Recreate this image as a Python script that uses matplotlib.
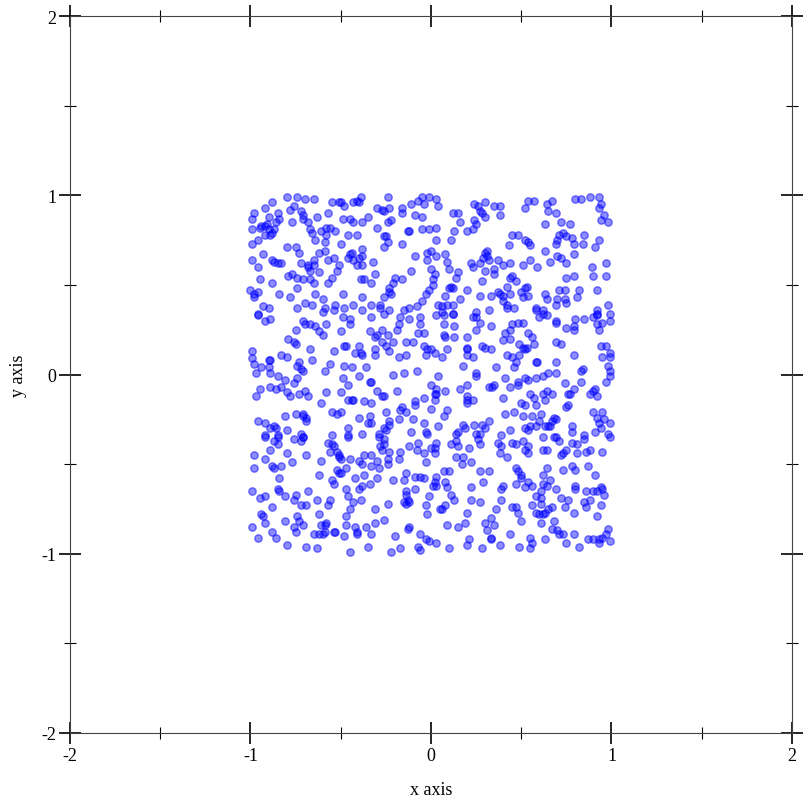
import numpy as np
import matplotlib
matplotlib.use("Agg")
import matplotlib.pyplot as plt
from matplotlib.ticker import MultipleLocator

# points, grouped by band (top / middle / bottom)
pts_top = [
    (-0.80, 0.99), (-0.74, 0.99), (-0.70, 0.98), (-0.65, 0.98), (-0.55, 0.96), (-0.51, 0.96),
    (-0.88, 0.96), (-0.92, 0.93), (-0.76, 0.94), (-0.78, 0.92), (-0.72, 0.91), (-0.98, 0.90),
    (-0.99, 0.87), (-0.90, 0.88), (-0.85, 0.90), (-0.84, 0.87), (-0.63, 0.88), (-0.57, 0.90),
    (-0.71, 0.89), (-0.86, 0.85), (-0.77, 0.85), (-0.68, 0.85), (-0.71, 0.87), (-0.94, 0.83),
    (-0.95, 0.82), (-0.91, 0.84), (-0.92, 0.83), (-0.90, 0.81), (-0.99, 0.81), (-0.87, 0.81),
    (-0.88, 0.79), (-0.92, 0.78), (-0.89, 0.78), (-0.67, 0.81), (-0.61, 0.80), (-0.58, 0.82),
    (-0.56, 0.82), (-0.53, 0.80), (-0.66, 0.79), (-0.58, 0.78), (-0.96, 0.75), (-0.99, 0.73),
    (-0.64, 0.75), (-0.59, 0.74), (-0.80, 0.71), (-0.75, 0.71), (-0.73, 0.68), (-0.62, 0.68),
    (-0.59, 0.69), (-0.93, 0.67), (-0.54, 0.65), (-0.99, 0.64), (-0.57, 0.64), (-0.88, 0.64),
    (-0.87, 0.63), (-0.85, 0.62), (-0.83, 0.62), (-0.72, 0.62), (-0.65, 0.64), (-0.96, 0.60),
    (-0.68, 0.60), (-0.68, 0.61), (-0.65, 0.61), (-0.67, 0.58), (-0.51, 0.61), (-0.52, 0.58),
    (-0.62, 0.57), (-0.79, 0.55), (-0.77, 0.56), (-0.74, 0.54), (-0.71, 0.53), (-0.67, 0.53),
    (-0.65, 0.51), (-0.95, 0.53), (-0.88, 0.51), (-0.55, 0.54), (-0.57, 0.51), (-0.74, 0.48),
    (-1.00, 0.47), (-0.98, 0.45), (-0.96, 0.46), (-0.98, 0.43), (-0.84, 0.45), (-0.78, 0.43),
    (-0.64, 0.45), (-0.60, 0.42), (-0.70, 0.40), (-0.66, 0.39), (-0.93, 0.38), (-0.90, 0.37),
    (-0.74, 0.37), (-0.59, 0.37), (-0.53, 0.39), (-0.54, 0.36), (-0.60, 0.35), (-0.96, 0.34),
    (-0.39, 0.99), (-0.24, 0.99), (-0.05, 0.99), (-0.01, 0.99), (-0.41, 0.97), (-0.43, 0.96),
    (-0.40, 0.96), (-0.50, 0.96), (-0.48, 0.94), (-0.30, 0.93), (-0.27, 0.92), (-0.23, 0.93),
    (-0.26, 0.91), (-0.16, 0.93), (-0.11, 0.95), (-0.07, 0.97), (-0.04, 0.95), (-0.16, 0.90),
    (-0.09, 0.89), (-0.05, 0.88), (-0.35, 0.88), (-0.49, 0.87), (-0.45, 0.87), (-0.43, 0.85),
    (-0.38, 0.85), (-0.22, 0.86), (-0.24, 0.85), (-0.30, 0.82), (-0.12, 0.80), (-0.13, 0.80),
    (-0.05, 0.81), (-0.01, 0.81), (-0.26, 0.77), (-0.25, 0.77), (-0.24, 0.74), (-0.26, 0.71),
    (-0.16, 0.73), (-0.46, 0.78), (-0.41, 0.78), (-0.50, 0.73), (-0.38, 0.70), (-0.44, 0.68),
    (-0.45, 0.67), (0.00, 0.69), (-0.02, 0.68), (-0.09, 0.66), (-0.46, 0.65), (-0.43, 0.64),
    (-0.40, 0.65), (-0.38, 0.66), (-0.02, 0.64), (-0.32, 0.63), (-0.41, 0.61), (-0.38, 0.61),
    (-0.31, 0.56), (0.00, 0.59), (-0.11, 0.58), (-0.39, 0.53), (-0.37, 0.53), (-0.33, 0.51),
    (-0.20, 0.54), (-0.16, 0.53), (-0.21, 0.51), (0.01, 0.53), (-0.23, 0.48), (-0.23, 0.46),
    (-0.49, 0.45), (-0.38, 0.43), (-0.26, 0.43), (-0.22, 0.45), (-0.03, 0.45), (-0.01, 0.47),
    (-0.05, 0.41), (-0.28, 0.39), (-0.43, 0.39), (-0.48, 0.37), (-0.38, 0.36), (-0.33, 0.39),
    (-0.28, 0.37), (-0.23, 0.36), (-0.15, 0.36), (-0.12, 0.37), (-0.08, 0.38),
    (0.03, 0.98), (0.04, 0.94), (0.24, 0.95), (0.26, 0.94), (0.30, 0.96), (0.35, 0.94),
    (0.38, 0.94), (0.52, 0.93), (0.27, 0.91), (0.28, 0.90), (0.12, 0.90), (0.15, 0.90),
    (0.38, 0.89), (0.30, 0.88), (0.24, 0.86), (0.16, 0.85), (0.25, 0.84), (0.20, 0.80),
    (0.23, 0.81), (0.03, 0.82), (0.13, 0.80), (0.45, 0.78), (0.48, 0.78), (0.03, 0.75),
    (0.11, 0.75), (0.43, 0.72), (0.52, 0.75), (0.31, 0.69), (0.30, 0.68), (0.31, 0.66),
    (0.29, 0.65), (0.08, 0.67), (0.03, 0.66), (0.09, 0.63), (0.22, 0.62), (0.23, 0.60),
    (0.27, 0.62), (0.32, 0.64), (0.37, 0.64), (0.40, 0.61), (0.44, 0.62), (0.51, 0.61),
    (0.10, 0.59), (0.15, 0.57), (0.30, 0.58), (0.35, 0.59), (0.35, 0.56), (0.45, 0.55),
    (0.44, 0.54), (0.47, 0.52), (0.02, 0.56), (0.14, 0.54), (0.28, 0.52), (0.01, 0.50),
    (0.11, 0.49), (0.12, 0.48), (0.10, 0.48), (0.20, 0.47), (0.52, 0.48), (0.50, 0.46),
    (0.37, 0.46), (0.38, 0.45), (0.42, 0.49), (0.40, 0.44), (0.44, 0.45), (0.51, 0.43),
    (0.08, 0.44), (0.16, 0.42), (0.27, 0.44), (0.33, 0.44), (0.04, 0.39), (0.06, 0.38),
    (0.09, 0.39), (0.12, 0.39), (0.40, 0.41), (0.42, 0.39), (0.42, 0.37), (0.46, 0.37),
    (0.25, 0.35), (0.32, 0.36), (0.06, 0.35), (0.12, 0.34),
    (0.54, 0.97), (0.57, 0.97), (0.67, 0.97), (0.64, 0.95), (0.65, 0.91), (0.69, 0.90),
    (0.80, 0.98), (0.83, 0.98), (0.88, 0.99), (0.93, 0.99), (0.94, 0.95), (0.93, 0.93),
    (0.96, 0.89), (0.94, 0.86), (0.98, 0.85), (0.63, 0.84), (0.72, 0.85), (0.77, 0.84),
    (0.73, 0.79), (0.71, 0.78), (0.75, 0.77), (0.78, 0.76), (0.79, 0.73), (0.69, 0.73),
    (0.70, 0.75), (0.85, 0.78), (0.84, 0.73), (0.93, 0.75), (0.54, 0.74), (0.55, 0.72),
    (0.91, 0.71), (0.63, 0.69), (0.79, 0.67), (0.70, 0.66), (0.72, 0.65), (0.55, 0.64),
    (0.66, 0.63), (0.75, 0.62), (0.59, 0.60), (0.89, 0.60), (0.97, 0.62), (0.79, 0.55),
    (0.75, 0.54), (0.90, 0.55), (0.97, 0.55), (0.53, 0.49), (0.54, 0.44), (0.63, 0.45),
    (0.64, 0.42), (0.71, 0.47), (0.74, 0.47), (0.82, 0.47), (0.92, 0.47), (0.70, 0.42),
    (0.74, 0.42), (0.75, 0.40), (0.81, 0.43), (0.69, 0.39), (0.98, 0.39), (0.58, 0.37),
    (0.58, 0.36), (0.62, 0.36), (0.92, 0.36), (0.92, 0.34), (0.62, 0.34), (0.99, 0.34),
]

pts_mid = [
    (-0.96, 0.33), (-0.92, 0.30), (-0.89, 0.31), (-0.71, 0.30), (-0.70, 0.28), (-0.67, 0.28),
    (-0.64, 0.27), (-0.62, 0.24), (-0.60, 0.22), (-0.58, 0.28), (-0.75, 0.25), (-0.79, 0.20),
    (-0.76, 0.18), (-0.75, 0.17), (-0.67, 0.14), (-0.54, 0.13), (-0.99, 0.13), (-0.99, 0.09),
    (-0.98, 0.06), (-0.90, 0.08), (-0.89, 0.08), (-0.83, 0.11), (-0.80, 0.10), (-0.73, 0.07),
    (-0.66, 0.08), (-0.74, 0.05), (-0.72, 0.03), (-0.71, 0.02), (-0.56, 0.06), (-0.59, 0.02),
    (-0.94, 0.04), (-0.90, 0.04), (-0.97, 0.01), (-0.89, 0.01), (-0.85, -0.01), (-0.81, -0.03),
    (-0.74, -0.02), (-0.76, -0.05), (-0.95, -0.08), (-0.97, -0.12), (-0.89, -0.07), (-0.86, -0.08),
    (-0.83, -0.07), (-0.80, -0.10), (-0.78, -0.12), (-0.73, -0.11), (-0.70, -0.09), (-0.68, -0.12),
    (-0.58, -0.10), (-0.61, -0.16), (-0.81, -0.23), (-0.75, -0.22), (-0.71, -0.22), (-0.71, -0.23),
    (-0.69, -0.24), (-0.69, -0.26), (-0.55, -0.21), (-0.52, -0.22), (-0.96, -0.26), (-0.92, -0.27),
    (-0.89, -0.30), (-0.87, -0.29), (-0.86, -0.30), (-0.80, -0.31), (-0.92, -0.34), (-0.85, -0.34),
    (-0.72, -0.33), (-0.71, -0.35), (-0.55, -0.34),
    (-0.49, 0.32), (-0.45, 0.31), (-0.33, 0.32), (-0.26, 0.34), (-0.17, 0.32), (-0.12, 0.31),
    (-0.06, 0.32), (-0.45, 0.28), (-0.18, 0.28), (-0.06, 0.28), (-0.50, 0.24), (-0.34, 0.24),
    (-0.31, 0.21), (-0.30, 0.22), (-0.27, 0.25), (-0.24, 0.22), (-0.21, 0.18), (-0.19, 0.25),
    (-0.27, 0.18), (-0.25, 0.16), (-0.23, 0.13), (-0.48, 0.16), (-0.47, 0.16), (-0.40, 0.16),
    (-0.42, 0.12), (-0.39, 0.12), (-0.38, 0.11), (-0.31, 0.14), (-0.31, 0.11), (-0.18, 0.10),
    (-0.14, 0.18), (-0.10, 0.18), (-0.07, 0.23), (-0.04, 0.23), (-0.04, 0.16), (-0.02, 0.14),
    (0.00, 0.14), (-0.03, 0.11), (-0.14, 0.11), (-0.48, 0.05), (-0.44, 0.04), (-0.36, 0.04),
    (-0.40, -0.01), (-0.49, -0.02), (-0.21, 0.00), (-0.15, 0.01), (-0.08, 0.02), (-0.34, -0.04),
    (-0.33, -0.04), (-0.46, -0.06), (-0.30, -0.09), (-0.50, -0.10), (-0.27, -0.12), (-0.26, -0.12),
    (-0.19, -0.09), (-0.46, -0.14), (-0.43, -0.14), (-0.44, -0.14), (-0.37, -0.15), (-0.33, -0.16),
    (-0.09, -0.15), (-0.09, -0.17), (-0.04, -0.13), (0.00, -0.06), (-0.25, -0.21), (-0.17, -0.20),
    (-0.16, -0.18), (-0.14, -0.21), (-0.10, -0.25), (0.00, -0.19), (-0.50, -0.21), (-0.40, -0.24),
    (-0.34, -0.23), (-0.35, -0.27), (-0.33, -0.27), (-0.23, -0.26), (-0.18, -0.25), (-0.23, -0.28),
    (-0.25, -0.31), (-0.26, -0.30), (-0.29, -0.33), (-0.46, -0.30), (-0.46, -0.34), (-0.38, -0.33),
    (-0.11, -0.32), (-0.03, -0.32), (-0.02, -0.33), (-0.04, -0.27),
    (0.03, 0.33), (0.07, 0.33), (0.12, 0.34), (0.23, 0.32), (0.25, 0.32), (0.27, 0.29),
    (0.25, 0.25), (0.33, 0.27), (0.07, 0.28), (0.07, 0.22), (0.08, 0.21), (0.13, 0.27),
    (0.13, 0.21), (0.20, 0.21), (0.41, 0.23), (0.40, 0.19), (0.44, 0.25), (0.45, 0.28),
    (0.48, 0.29), (0.51, 0.29), (0.44, 0.20), (0.20, 0.15), (0.20, 0.14), (0.28, 0.16),
    (0.30, 0.15), (0.33, 0.14), (0.02, 0.12), (0.06, 0.10), (0.09, 0.14), (0.20, 0.11),
    (0.23, 0.10), (0.49, 0.17), (0.51, 0.15), (0.52, 0.14), (0.42, 0.11), (0.45, 0.10),
    (0.49, 0.11), (0.47, 0.07), (0.46, 0.04), (0.18, 0.05), (0.36, 0.04), (0.04, -0.01),
    (0.25, 0.01), (0.25, -0.01), (0.41, -0.02), (0.48, -0.04), (0.48, -0.06), (0.52, -0.02),
    (0.32, -0.07), (0.35, -0.06), (0.34, -0.07), (0.44, -0.07), (0.20, -0.06), (0.16, -0.08),
    (0.08, -0.09), (0.03, -0.08), (0.02, -0.11), (0.03, -0.11), (0.02, -0.14), (0.20, -0.12),
    (0.20, -0.14), (0.20, -0.16), (0.23, -0.14), (0.40, -0.13), (0.50, -0.16), (0.52, -0.17),
    (0.09, -0.20), (0.07, -0.23), (0.32, -0.26), (0.41, -0.22), (0.46, -0.21), (0.51, -0.23),
    (0.04, -0.29), (0.18, -0.28), (0.19, -0.30), (0.24, -0.28), (0.28, -0.28), (0.30, -0.30),
    (0.15, -0.32), (0.14, -0.33), (0.25, -0.33), (0.27, -0.33), (0.44, -0.31), (0.39, -0.34),
    (0.52, -0.30),
    (0.60, 0.32), (0.64, 0.33), (0.69, 0.30), (0.69, 0.29), (0.80, 0.31), (0.85, 0.31),
    (0.90, 0.32), (0.92, 0.33), (0.92, 0.28), (0.93, 0.25), (0.95, 0.29), (0.99, 0.30),
    (0.75, 0.26), (0.79, 0.27), (0.79, 0.25), (0.54, 0.23), (0.56, 0.21), (0.57, 0.17),
    (0.53, 0.15), (0.69, 0.18), (0.72, 0.17), (0.79, 0.11), (0.69, 0.07), (0.58, 0.07),
    (0.59, 0.07), (0.84, 0.03), (0.83, 0.02), (0.83, -0.04), (0.94, 0.16), (0.97, 0.16),
    (0.95, 0.10), (0.99, 0.12), (0.99, 0.10), (0.98, 0.05), (0.99, 0.02), (0.99, -0.01),
    (0.97, -0.04), (0.54, -0.03), (0.58, -0.02), (0.62, -0.01), (0.65, 0.01), (0.69, 0.01),
    (0.74, -0.05), (0.79, -0.08), (0.77, -0.11), (0.76, -0.11), (0.64, -0.09), (0.67, -0.11),
    (0.62, -0.11), (0.55, -0.11), (0.57, -0.13), (0.63, -0.14), (0.58, -0.17), (0.88, -0.11),
    (0.90, -0.09), (0.91, -0.08), (0.92, -0.12), (0.76, -0.17), (0.75, -0.18), (0.90, -0.21),
    (0.95, -0.21), (0.56, -0.23), (0.61, -0.22), (0.68, -0.24), (0.69, -0.25), (0.67, -0.26),
    (0.60, -0.26), (0.58, -0.29), (0.55, -0.29), (0.54, -0.31), (0.63, -0.29), (0.65, -0.29),
    (0.66, -0.29), (0.92, -0.24), (0.93, -0.27), (0.96, -0.25), (0.99, -0.27), (0.94, -0.30),
    (0.78, -0.29), (0.78, -0.32), (0.91, -0.32), (0.98, -0.33), (0.85, -0.34), (0.68, -0.35),
]

pts_bot = [
    (-0.92, -0.35), (-0.87, -0.37), (-0.85, -0.39), (-0.85, -0.35), (-0.76, -0.36), (-0.72, -0.37),
    (-0.71, -0.35), (-0.57, -0.38), (-0.55, -0.39), (-0.54, -0.40), (-0.56, -0.43), (-0.52, -0.43),
    (-0.51, -0.46), (-0.98, -0.45), (-0.92, -0.47), (-0.89, -0.42), (-0.80, -0.44), (-0.69, -0.45),
    (-0.61, -0.48), (-0.77, -0.49), (-0.88, -0.51), (-0.87, -0.52), (-0.83, -0.51), (-0.98, -0.52),
    (-0.52, -0.53), (-0.62, -0.56), (-0.51, -0.55), (-0.84, -0.58), (-0.55, -0.59), (-0.54, -0.61),
    (-0.99, -0.65), (-0.85, -0.64), (-0.84, -0.65), (-0.95, -0.69), (-0.92, -0.68), (-0.81, -0.68),
    (-0.76, -0.70), (-0.75, -0.67), (-0.68, -0.65), (-0.63, -0.70), (-0.56, -0.70), (-0.57, -0.73),
    (-0.88, -0.74), (-0.72, -0.73), (-0.69, -0.73), (-0.94, -0.78), (-0.93, -0.79), (-0.92, -0.83),
    (-0.74, -0.79), (-0.73, -0.82), (-0.71, -0.84), (-0.76, -0.85), (-0.81, -0.82), (-0.99, -0.85),
    (-0.88, -0.88), (-0.86, -0.91), (-0.96, -0.91), (-0.75, -0.88), (-0.62, -0.78), (-0.58, -0.83),
    (-0.59, -0.84), (-0.61, -0.84), (-0.65, -0.89), (-0.60, -0.89), (-0.62, -0.89), (-0.54, -0.88),
    (-0.53, -0.88), (-0.59, -0.88), (-0.80, -0.95), (-0.69, -0.96), (-0.63, -0.97),
    (-0.46, -0.35), (-0.29, -0.35), (-0.26, -0.36), (-0.26, -0.39), (-0.28, -0.40), (-0.27, -0.42),
    (-0.23, -0.43), (-0.17, -0.43), (-0.07, -0.38), (-0.12, -0.40), (-0.08, -0.42), (-0.04, -0.44),
    (0.00, -0.41), (-0.51, -0.45), (-0.50, -0.47), (-0.45, -0.47), (-0.40, -0.48), (-0.38, -0.50),
    (-0.37, -0.45), (-0.33, -0.51), (-0.33, -0.45), (-0.30, -0.48), (-0.29, -0.52), (-0.24, -0.47),
    (-0.24, -0.50), (-0.18, -0.47), (-0.03, -0.49), (-0.50, -0.55), (-0.47, -0.52), (-0.42, -0.58),
    (-0.37, -0.56), (-0.30, -0.58), (-0.21, -0.59), (-0.15, -0.59), (-0.14, -0.55), (-0.09, -0.57),
    (-0.06, -0.57), (-0.04, -0.58), (0.01, -0.62), (-0.47, -0.64), (-0.46, -0.68), (-0.40, -0.64),
    (-0.38, -0.62), (-0.34, -0.61), (-0.43, -0.71), (-0.39, -0.70), (-0.09, -0.64), (-0.14, -0.65),
    (-0.14, -0.67), (-0.13, -0.70), (-0.15, -0.71), (-0.14, -0.72), (-0.12, -0.71), (-0.01, -0.68),
    (-0.24, -0.72), (-0.31, -0.75), (-0.45, -0.75), (-0.03, -0.73), (-0.47, -0.79), (-0.02, -0.78),
    (-0.47, -0.84), (-0.42, -0.85), (-0.41, -0.88), (-0.41, -0.89), (-0.36, -0.85), (-0.31, -0.83),
    (-0.26, -0.81), (-0.12, -0.85), (-0.13, -0.86), (-0.48, -0.90), (-0.33, -0.89), (-0.20, -0.90),
    (-0.06, -0.89), (-0.03, -0.92), (-0.01, -0.93), (-0.07, -0.96), (-0.06, -0.98), (-0.17, -0.97),
    (-0.22, -0.99), (-0.35, -0.96), (-0.45, -0.99),
    (0.03, -0.38), (0.11, -0.39), (0.14, -0.37), (0.15, -0.40), (0.26, -0.36), (0.27, -0.39),
    (0.37, -0.38), (0.39, -0.40), (0.45, -0.38), (0.47, -0.39), (0.51, -0.37), (0.52, -0.42),
    (0.02, -0.41), (0.02, -0.44), (0.14, -0.46), (0.18, -0.46), (0.21, -0.41), (0.22, -0.49),
    (0.17, -0.50), (0.38, -0.44), (0.42, -0.46), (0.07, -0.54), (0.10, -0.54), (0.27, -0.54),
    (0.32, -0.54), (0.29, -0.60), (0.03, -0.57), (0.02, -0.60), (0.03, -0.62), (0.08, -0.60),
    (0.09, -0.63), (0.47, -0.52), (0.48, -0.54), (0.50, -0.56), (0.50, -0.58), (0.47, -0.61),
    (0.52, -0.63), (0.40, -0.62), (0.39, -0.64), (0.39, -0.70), (0.11, -0.67), (0.13, -0.70),
    (0.22, -0.63), (0.22, -0.70), (0.27, -0.71), (0.05, -0.75), (0.06, -0.75), (0.08, -0.73),
    (0.20, -0.77), (0.36, -0.75), (0.45, -0.74), (0.47, -0.74), (0.48, -0.77), (0.50, -0.82),
    (0.33, -0.80), (0.30, -0.83), (0.35, -0.84), (0.31, -0.87), (0.33, -0.91), (0.33, -0.92),
    (0.44, -0.89), (0.09, -0.84), (0.15, -0.85), (0.19, -0.83), (0.21, -0.92), (0.20, -0.95),
    (0.28, -0.97), (0.38, -0.95), (0.49, -0.96), (0.03, -0.94), (0.10, -0.97),
    (0.54, -0.40), (0.54, -0.44), (0.62, -0.35), (0.69, -0.35), (0.71, -0.37), (0.78, -0.38),
    (0.81, -0.39), (0.85, -0.36), (0.99, -0.35), (0.62, -0.42), (0.64, -0.42), (0.72, -0.45),
    (0.73, -0.44), (0.75, -0.42), (0.81, -0.44), (0.86, -0.43), (0.88, -0.42), (0.95, -0.43),
    (0.87, -0.51), (0.78, -0.51), (0.80, -0.53), (0.73, -0.53), (0.64, -0.52), (0.62, -0.56),
    (0.62, -0.61), (0.64, -0.62), (0.66, -0.59), (0.91, -0.56), (0.54, -0.60), (0.56, -0.62),
    (0.61, -0.65), (0.58, -0.68), (0.61, -0.69), (0.61, -0.72), (0.69, -0.64), (0.80, -0.62),
    (0.80, -0.64), (0.86, -0.65), (0.90, -0.65), (0.92, -0.65), (0.94, -0.63), (0.95, -0.64),
    (0.96, -0.67), (0.88, -0.70), (0.85, -0.71), (0.86, -0.74), (0.94, -0.73), (0.72, -0.69),
    (0.76, -0.70), (0.74, -0.74), (0.67, -0.74), (0.65, -0.75), (0.56, -0.73), (0.58, -0.77),
    (0.60, -0.78), (0.62, -0.78), (0.63, -0.77), (0.61, -0.83), (0.79, -0.77), (0.92, -0.79),
    (0.68, -0.82), (0.67, -0.86), (0.70, -0.87), (0.71, -0.89), (0.73, -0.89), (0.79, -0.89),
    (0.98, -0.86), (0.97, -0.89), (0.95, -0.91), (0.93, -0.92), (0.90, -0.92), (0.87, -0.92),
    (0.55, -0.91), (0.56, -0.94), (0.55, -0.97), (0.63, -0.92), (0.75, -0.94), (0.82, -0.96),
    (0.93, -0.94), (0.99, -0.93),
]

x_ticks = [-2, -1, 0, 1, 2]
y_ticks = [-2, -1, 0, 1, 2]

pts = np.array(pts_top + pts_mid + pts_bot)

plt.rcParams['font.family'] = ['Liberation Serif', 'DejaVu Serif']
plt.rcParams['axes.unicode_minus'] = False

fig = plt.figure(figsize=(8.12, 8.12), dpi=100)
ax = fig.add_axes([70 / 812, 78 / 812, 722 / 812, 717 / 812])

ax.scatter(pts[:, 0], pts[:, 1], s=28, facecolor=(0, 0, 1, 0.45),
           edgecolor=(0, 0, 1, 0.5), linewidth=1.0, zorder=3)

ax.set_xlim(-2, 2)
ax.set_ylim(-2, 2)
ax.set_xticks(x_ticks)
ax.set_yticks(y_ticks)
ax.set_xticklabels([str(t) for t in x_ticks])
ax.set_yticklabels([str(t) for t in y_ticks])
ax.xaxis.set_minor_locator(MultipleLocator(0.5))
ax.yaxis.set_minor_locator(MultipleLocator(0.5))
ax.tick_params(which='major', direction='inout', length=16, width=1.2,
               top=True, right=True, labelsize=13, pad=2, color='black')
ax.tick_params(which='minor', direction='inout', length=8, width=0.8,
               top=True, right=True, color='black')
for s in ax.spines.values():
    s.set_linewidth(0.8)
    s.set_color('#444444')

ax.set_xlabel('x axis', fontsize=13, labelpad=12)
ax.set_ylabel('y axis', fontsize=13, labelpad=10)

fig.savefig('out.png', dpi=100)
